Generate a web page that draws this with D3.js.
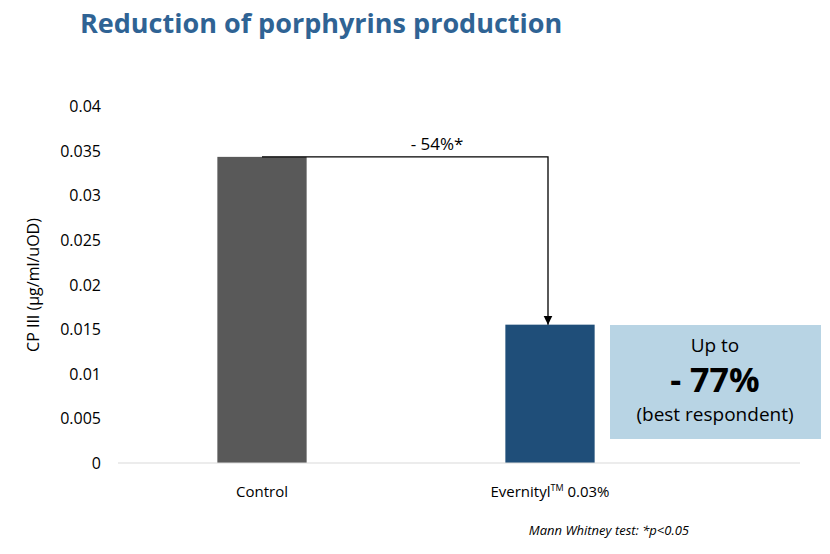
<!DOCTYPE html>
<html><head><meta charset="utf-8">
<script src="https://cdn.jsdelivr.net/npm/d3@7"></script>
<style>body{margin:0;background:#fff}text{font-family:"Open Sans",sans-serif}</style>
</head><body>
<svg id="c" width="830" height="554"></svg>
<script>
const categories = ["Control", "Evernityl 0.03%"];
const values = [0.0343, 0.0155];
const colors = ["#595959", "#1f4e79"];
const yTicks = [0, 0.005, 0.01, 0.015, 0.02, 0.025, 0.03, 0.035, 0.04];
const changeLabel = "- 54%*";

const svg = d3.select("#c");
const x = d3.scaleBand().domain(categories).range([118, 694]).paddingInner(0.69).paddingOuter(0.345);
const y = d3.scaleLinear().domain([0, 0.04]).range([463, 106]);

svg.append("text").attr("x", 80).attr("y", 33).attr("font-size", 27).attr("font-weight", 700)
  .attr("fill", "#2f6394").text("Reduction of porphyrins production");

svg.selectAll(".yt").data(yTicks).enter().append("text")
  .attr("x", 101).attr("y", d => y(d) + 6).attr("text-anchor", "end").attr("font-size", 16).attr("fill", "#000")
  .text(d => d);

svg.append("text").attr("transform", "translate(39,285) rotate(-90)").attr("text-anchor", "middle")
  .attr("font-size", 16).text("CP III (µg/ml/uOD)");

svg.selectAll(".bar").data(values).enter().append("rect")
  .attr("x", (d, i) => x(categories[i])).attr("width", x.bandwidth())
  .attr("y", d => y(d)).attr("height", d => y(0) - y(d)).attr("fill", (d, i) => colors[i]);

svg.append("line").attr("x1", 118).attr("x2", 800).attr("y1", y(0)).attr("y2", y(0)).attr("stroke", "#d9d9d9");

const cx = categories.map(c => x(c) + x.bandwidth() / 2);
svg.append("text").attr("x", cx[0]).attr("y", 497).attr("text-anchor", "middle").attr("font-size", 15).text("Control");
const t2 = svg.append("text").attr("x", cx[1]).attr("y", 497).attr("text-anchor", "middle").attr("font-size", 15);
t2.append("tspan").text("Evernityl");
t2.append("tspan").attr("font-size", 9).attr("dy", -6).text("TM");
t2.append("tspan").attr("dy", 6).text(" 0.03%");

svg.append("defs").append("marker").attr("id", "ah").attr("viewBox", "0 0 10 10").attr("refX", 10).attr("refY", 5)
  .attr("markerWidth", 7).attr("markerHeight", 7).attr("orient", "auto")
  .append("path").attr("d", "M0,0L10,5L0,10z").attr("fill", "#000");
svg.append("path").attr("d", `M${cx[0]},${y(values[0])}H${cx[1] - 2}V${y(values[1])}`)
  .attr("fill", "none").attr("stroke", "#000").attr("stroke-width", 1.3).attr("marker-end", "url(#ah)");
svg.append("text").attr("x", 437).attr("y", 150).attr("text-anchor", "middle").attr("font-size", 17).text(changeLabel);

svg.append("rect").attr("x", 610).attr("y", 325).attr("width", 211).attr("height", 114).attr("fill", "#b8d4e4");
svg.append("text").attr("x", 715).attr("y", 352).attr("text-anchor", "middle").attr("font-size", 19).text("Up to");
svg.append("text").attr("x", 715).attr("y", 392).attr("text-anchor", "middle").attr("font-size", 34).attr("font-weight", 700).text("- 77%");
svg.append("text").attr("x", 715).attr("y", 421).attr("text-anchor", "middle").attr("font-size", 19).text("(best respondent)");

svg.append("text").attr("x", 689).attr("y", 535).attr("text-anchor", "end").attr("font-size", 13).attr("font-style", "italic")
  .text("Mann Whitney test: *p<0.05");
</script>
</body></html>
